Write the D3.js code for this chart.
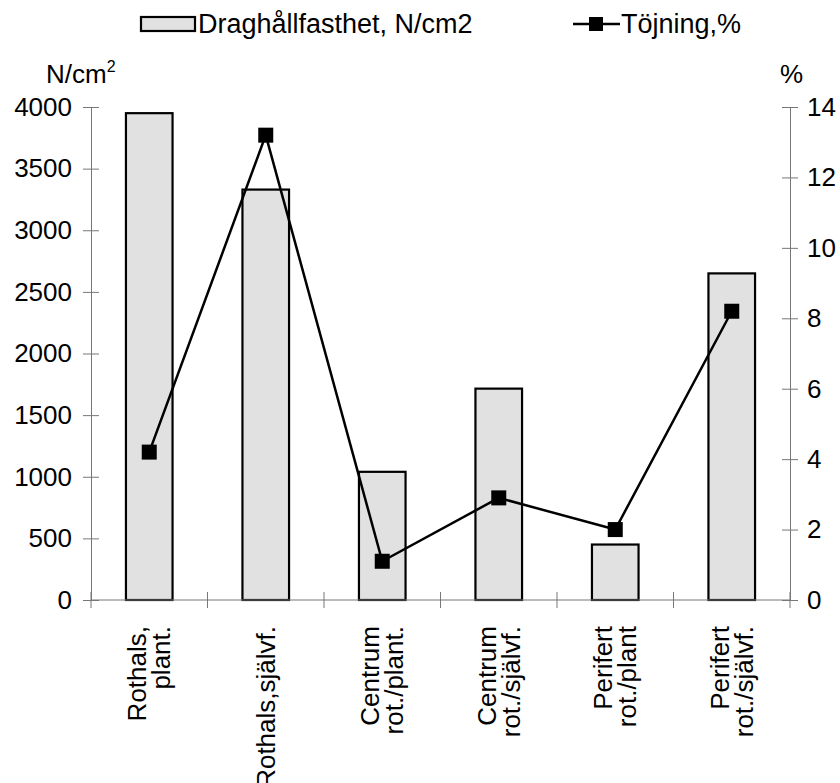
<!DOCTYPE html>
<html>
<head>
<meta charset="utf-8">
<script src="https://cdn.jsdelivr.net/npm/d3@7"></script>
<style>
  body { margin: 0; background: #fff; }
  text { font-family: "Liberation Sans", Arial, sans-serif; fill: #000; }
</style>
</head>
<body>
<svg id="chart"></svg>
<script>
// kategorier (två rader där etiketten bryts)
const categories = ["Rothals, plant.", "Rothals,självf.", "Centrum rot./plant.", "Centrum rot./självf.", "Perifert rot./plant", "Perifert rot./självf."];
const labelLines = [["Rothals,", "plant."], ["Rothals,självf."], ["Centrum", "rot./plant."], ["Centrum", "rot./självf."], ["Perifert", "rot./plant"], ["Perifert", "rot./självf."]];
const strength = [3950, 3330, 1040, 1715, 450, 2650];   // N/cm2
const elongation = [4.2, 13.2, 1.1, 2.9, 2.0, 8.2];     // %
const leftTicks = [0, 500, 1000, 1500, 2000, 2500, 3000, 3500, 4000];
const rightTicks = [0, 2, 4, 6, 8, 10, 12, 14];

function drawChart(svgSelector, width, height) {
    const svg = d3.select(svgSelector)
        .attr("width", width)
        .attr("height", height);

    const left = 91, right = 790, top = 107, bottom = 600;
    const axisColor = "#777";

    const x = d3.scaleBand()
        .domain(categories)
        .range([left, right])
        .paddingInner(0.6)
        .paddingOuter(0.3);

    const y = d3.scaleLinear().domain([0, 4000]).range([bottom, top]);
    const y2 = d3.scaleLinear().domain([0, 14]).range([bottom, top]);

    // staplar
    svg.append("g").selectAll("rect")
        .data(strength)
        .enter().append("rect")
        .attr("x", (d, i) => x(categories[i]))
        .attr("y", d => y(d))
        .attr("width", x.bandwidth())
        .attr("height", d => y(0) - y(d))
        .attr("fill", "#e1e1e1")
        .attr("stroke", "#000")
        .attr("stroke-width", 2.2);

    // vänster axel
    const gl = svg.append("g")
        .attr("transform", `translate(${left},0)`)
        .call(d3.axisLeft(y).tickValues(leftTicks).tickFormat(d3.format("d"))
            .tickSizeInner(8).tickSizeOuter(0).tickPadding(11));
    gl.selectAll(".tick line").attr("x1", 8);

    // höger axel
    const gr = svg.append("g")
        .attr("transform", `translate(${right},0)`)
        .call(d3.axisRight(y2).tickValues(rightTicks).tickFormat(d3.format("d"))
            .tickSizeInner(8).tickSizeOuter(0).tickPadding(9));
    gr.selectAll(".tick line").attr("x1", -8);

    [gl, gr].forEach(g => {
        g.select(".domain").attr("stroke", axisColor);
        g.selectAll(".tick line").attr("stroke", axisColor);
        g.selectAll(".tick text").attr("font-size", "26px").attr("font-family", "Liberation Sans, Arial, sans-serif");
    });

    // x-axel med streck mellan kategorierna
    svg.append("line")
        .attr("x1", left).attr("x2", right)
        .attr("y1", y(0)).attr("y2", y(0))
        .attr("stroke", axisColor);
    const bounds = categories.map(c => x(c) - x.step() * x.paddingOuter());
    bounds.push(right);
    svg.append("g").selectAll("line")
        .data(bounds)
        .enter().append("line")
        .attr("x1", d => d).attr("x2", d => d)
        .attr("y1", y(0) - 8).attr("y2", y(0) + 8)
        .attr("stroke", axisColor);

    // kategorietiketter, roterade
    labelLines.forEach((lines, i) => {
        const cx = x(categories[i]) + x.bandwidth() / 2;
        lines.forEach((t, j) => {
            const off = lines.length === 1 ? 0 : (j === 0 ? -12 : 12);
            svg.append("text")
                .attr("transform", `translate(${cx + off},626) rotate(-90)`)
                .attr("text-anchor", "end")
                .attr("dy", "0.35em")
                .attr("font-size", "26px")
                .text(t);
        });
    });

    // linje för töjning
    const line = d3.line()
        .x((d, i) => x(categories[i]) + x.bandwidth() / 2)
        .y(d => y2(d));
    svg.append("path")
        .datum(elongation)
        .attr("d", line)
        .attr("fill", "none")
        .attr("stroke", "#000")
        .attr("stroke-width", 2.5);

    svg.append("g").selectAll("rect")
        .data(elongation)
        .enter().append("rect")
        .attr("x", (d, i) => x(categories[i]) + x.bandwidth() / 2 - 7.5)
        .attr("y", d => y2(d) - 7.5)
        .attr("width", 15)
        .attr("height", 15)
        .attr("fill", "#000");

    // axeltitlar
    const t1 = svg.append("text").attr("x", 46).attr("y", 83).attr("font-size", "26px");
    t1.append("tspan").text("N/cm");
    t1.append("tspan").attr("font-size", "16px").attr("dy", "-11").text("2");
    svg.append("text").attr("x", 780).attr("y", 83).attr("font-size", "26px").text("%");

    // förklaring
    svg.append("rect")
        .attr("x", 141).attr("y", 17).attr("width", 54).attr("height", 14)
        .attr("fill", "#e1e1e1").attr("stroke", "#000").attr("stroke-width", 2.2);
    svg.append("text").attr("x", 198).attr("y", 24).attr("dy", "0.35em")
        .attr("font-size", "27px").text("Draghållfasthet, N/cm2");

    svg.append("line")
        .attr("x1", 573).attr("x2", 620).attr("y1", 24).attr("y2", 24)
        .attr("stroke", "#000").attr("stroke-width", 2.5);
    svg.append("rect")
        .attr("x", 589).attr("y", 17).attr("width", 14).attr("height", 14)
        .attr("fill", "#000");
    svg.append("text").attr("x", 621).attr("y", 24).attr("dy", "0.35em")
        .attr("font-size", "27px").text("Töjning,%");
}

drawChart("#chart", 840, 783);
</script>
</body>
</html>
